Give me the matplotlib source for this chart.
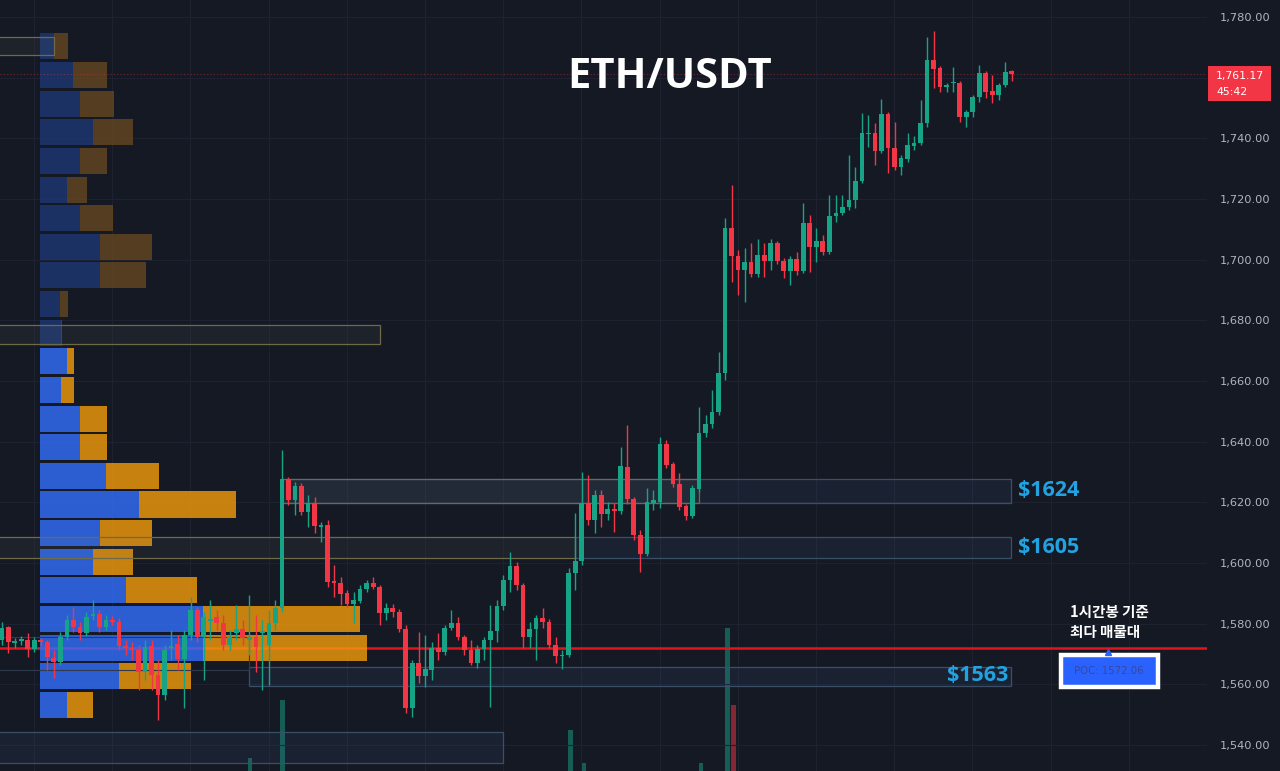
import numpy as np
import matplotlib
matplotlib.use('Agg')
import matplotlib.pyplot as plt
from matplotlib.patches import Rectangle
import matplotlib.transforms as mtransforms

# ---- candle data (1h, ETH/USDT) ----
opens = [1574.6, 1578.9, 1573.6, 1574.3, 1574.6, 1571.6, 1574.6, 1573.9, 1568.7, 1567.3,
         1575.6, 1581.2, 1578.9, 1576.9, 1582.5, 1583.2, 1578.9, 1581.2, 1580.5, 1572.6,
         1572.0, 1571.3, 1564.0, 1572.6, 1563.1, 1556.5, 1572.0, 1573.3, 1568.3, 1576.2,
         1584.5, 1575.6, 1580.9, 1582.2, 1580.2, 1572.9, 1576.9, 1578.2, 1574.6, 1575.6,
         1576.9, 1572.9, 1580.2, 1585.2, 1627.7, 1620.8, 1625.4, 1616.8, 1619.8, 1611.8,
         1612.5, 1594.0, 1593.4, 1590.1, 1586.5, 1587.5, 1591.4, 1593.4, 1592.1, 1583.5,
         1585.2, 1583.8, 1578.2, 1552.2, 1567.0, 1562.7, 1564.7, 1572.0, 1570.6, 1578.6,
         1580.2, 1575.6, 1571.3, 1567.0, 1571.6, 1574.6, 1577.6, 1585.8, 1594.4, 1599.0,
         1592.7, 1575.6, 1578.2, 1581.9, 1580.5, 1572.9, 1569.3, 1569.7, 1596.7, 1600.6,
         1619.8, 1614.2, 1622.4, 1616.1, 1617.8, 1617.1, 1631.6, 1621.1, 1609.2, 1603.0,
         1619.8, 1620.1, 1639.2, 1632.6, 1626.0, 1618.8, 1615.5, 1624.4, 1642.8, 1645.8,
         1649.8, 1662.6, 1710.4, 1701.2, 1696.6, 1699.2, 1695.3, 1701.5, 1699.5, 1705.5,
         1699.5, 1696.3, 1700.2, 1696.3, 1712.1, 1704.2, 1706.1, 1702.5, 1714.4, 1715.4,
         1717.4, 1719.7, 1725.9, 1741.4, 1741.7, 1735.8, 1748.0, 1736.8, 1730.5, 1733.2,
         1737.5, 1738.5, 1745.0, 1765.8, 1763.2, 1756.9, 1758.2, 1758.2, 1747.0, 1748.7,
         1753.6, 1761.5, 1755.6, 1754.3, 1757.6, 1762.3]
highs = [1580.5, 1579.3, 1575.3, 1575.9, 1576.9, 1575.6, 1575.3, 1574.6, 1571.3, 1577.2,
         1582.9, 1585.5, 1580.5, 1583.8, 1587.8, 1584.5, 1582.9, 1582.5, 1581.9, 1574.6,
         1573.9, 1572.9, 1574.6, 1574.6, 1568.0, 1572.9, 1577.9, 1576.2, 1577.9, 1588.8,
         1585.5, 1583.8, 1587.8, 1584.5, 1582.9, 1577.9, 1586.1, 1581.2, 1589.4, 1582.9,
         1581.2, 1584.5, 1587.8, 1637.2, 1628.3, 1626.7, 1626.4, 1622.4, 1621.7, 1613.5,
         1614.2, 1599.3, 1595.4, 1591.1, 1590.4, 1592.7, 1594.4, 1595.4, 1592.7, 1586.8,
         1586.5, 1584.8, 1579.6, 1568.0, 1577.2, 1576.2, 1573.9, 1576.9, 1579.6, 1584.5,
         1582.2, 1576.2, 1574.6, 1572.9, 1575.6, 1586.1, 1587.8, 1596.0, 1603.6, 1600.3,
         1593.4, 1580.5, 1582.9, 1585.2, 1581.5, 1575.6, 1571.3, 1598.3, 1616.5, 1630.0,
         1629.0, 1624.0, 1624.0, 1620.1, 1619.8, 1638.2, 1645.5, 1621.7, 1610.9, 1624.7,
         1624.0, 1641.5, 1640.5, 1633.3, 1629.7, 1619.4, 1625.7, 1651.4, 1648.8, 1657.0,
         1669.5, 1713.7, 1724.6, 1703.2, 1703.8, 1705.5, 1706.8, 1705.5, 1706.8, 1706.1,
         1700.5, 1701.2, 1702.5, 1718.7, 1714.7, 1710.4, 1708.1, 1721.3, 1721.3, 1721.3,
         1734.5, 1730.5, 1748.3, 1747.7, 1745.0, 1753.0, 1748.7, 1745.4, 1734.5, 1741.7,
         1740.8, 1752.6, 1773.4, 1775.4, 1763.8, 1758.2, 1763.5, 1758.9, 1749.3, 1754.3,
         1764.2, 1762.2, 1760.9, 1758.2, 1765.2, 1762.6]
lows = [1572.9, 1570.3, 1572.0, 1572.9, 1569.0, 1570.6, 1572.6, 1564.7, 1562.1, 1566.3,
        1574.6, 1577.2, 1574.6, 1575.9, 1581.2, 1577.2, 1577.9, 1579.6, 1571.3, 1569.7,
        1568.0, 1558.1, 1561.4, 1558.1, 1548.2, 1554.8, 1568.0, 1564.7, 1552.2, 1574.6,
        1573.9, 1561.4, 1574.6, 1577.9, 1571.3, 1571.3, 1574.6, 1572.9, 1569.7, 1564.0,
        1558.1, 1559.8, 1577.9, 1583.8, 1619.1, 1615.8, 1615.8, 1611.8, 1609.9, 1606.9,
        1592.1, 1588.8, 1586.1, 1585.5, 1580.2, 1586.8, 1590.4, 1591.4, 1579.6, 1581.2,
        1582.2, 1577.2, 1550.5, 1549.2, 1560.4, 1559.1, 1561.4, 1568.0, 1569.7, 1577.9,
        1574.6, 1569.7, 1566.3, 1565.4, 1568.0, 1552.5, 1573.9, 1584.5, 1590.4, 1591.1,
        1572.0, 1572.0, 1568.0, 1578.6, 1572.0, 1567.0, 1565.0, 1569.0, 1591.1, 1599.3,
        1612.5, 1609.9, 1611.8, 1614.2, 1610.2, 1616.1, 1619.4, 1607.6, 1597.0, 1602.3,
        1617.5, 1618.1, 1631.3, 1625.0, 1617.5, 1614.2, 1614.8, 1623.4, 1641.5, 1644.5,
        1648.8, 1660.3, 1692.6, 1688.3, 1686.0, 1694.3, 1694.3, 1694.3, 1696.6, 1698.6,
        1693.9, 1691.6, 1694.9, 1695.6, 1695.9, 1699.2, 1701.5, 1701.9, 1712.4, 1714.7,
        1716.4, 1717.0, 1725.3, 1737.1, 1731.2, 1735.2, 1728.6, 1729.5, 1727.9, 1732.2,
        1736.1, 1737.8, 1743.7, 1756.6, 1755.3, 1755.3, 1755.3, 1745.4, 1743.7, 1747.0,
        1752.0, 1753.3, 1751.6, 1752.6, 1756.9, 1758.9]
closes = [1578.6, 1573.9, 1574.3, 1574.9, 1571.6, 1574.6, 1573.9, 1569.0, 1567.3, 1575.6,
          1581.2, 1578.9, 1576.9, 1582.2, 1583.2, 1578.9, 1581.2, 1580.5, 1572.6, 1572.0,
          1571.3, 1564.0, 1572.3, 1563.1, 1556.5, 1571.3, 1572.6, 1568.3, 1576.2, 1584.5,
          1575.6, 1582.2, 1581.5, 1580.2, 1572.9, 1575.6, 1578.2, 1575.3, 1575.6, 1572.3,
          1577.6, 1580.2, 1585.2, 1627.7, 1620.8, 1625.4, 1616.8, 1619.8, 1612.2, 1612.5,
          1593.7, 1593.4, 1589.8, 1586.5, 1587.8, 1591.4, 1593.4, 1592.1, 1583.5, 1585.2,
          1583.8, 1578.2, 1552.2, 1567.0, 1562.7, 1565.0, 1572.0, 1570.6, 1578.6, 1580.2,
          1575.6, 1571.3, 1567.0, 1571.6, 1574.6, 1577.6, 1585.8, 1594.4, 1599.0, 1592.7,
          1575.6, 1578.2, 1581.9, 1580.5, 1572.9, 1569.3, 1569.7, 1596.7, 1600.6, 1619.8,
          1614.2, 1622.4, 1616.1, 1617.8, 1617.1, 1632.0, 1621.1, 1609.2, 1603.0, 1620.1,
          1620.8, 1639.2, 1632.3, 1626.0, 1618.4, 1615.5, 1624.7, 1642.8, 1645.8, 1649.8,
          1662.6, 1710.4, 1701.2, 1696.6, 1699.2, 1695.3, 1701.5, 1699.5, 1705.5, 1699.5,
          1696.3, 1700.2, 1696.3, 1712.1, 1704.2, 1706.1, 1702.5, 1714.4, 1715.4, 1717.4,
          1719.7, 1725.9, 1741.7, 1741.7, 1735.8, 1748.0, 1736.8, 1730.5, 1733.5, 1737.8,
          1738.5, 1745.0, 1765.8, 1762.9, 1756.9, 1757.6, 1758.6, 1747.0, 1748.7, 1753.6,
          1761.5, 1755.3, 1754.3, 1757.6, 1761.9, 1761.17]

# volume (only the bars that show above the bottom edge)
vol_idx = [38, 43, 87, 89, 107, 111, 112]
vol_val = [2.6, 14.2, 8.2, 1.6, 1.6, 28.6, 13.2]

# volume profile rows, top -> bottom
vp_buy = [7, 16.5, 20, 26.5, 20, 13.5, 20, 30, 30, 10, 10.5, 13.5,
          10.5, 20, 20, 33, 49.5, 30, 26.5, 43, 82, 82, 39.5, 13.5]
vp_sell = [7, 17, 17, 20, 13.5, 10, 16.5, 26, 23, 4, 0.5, 3.5,
           6.5, 13.5, 13.5, 26.5, 49, 26, 20, 36, 78.5, 82, 36.5, 13]
poc = 1572.06
vp_step = 9.44
va_high = 1671.2
last_price = 1761.17
countdown = '45:42'

# zones: (left idx, right idx, low, high)
blue_zones = [(43, 154.8, 1619.8, 1627.7), (88, 154.8, 1601.6, 1608.6),
              (38, 154.8, 1559.4, 1565.7), (-1, 77, 1534.1, 1544.3)]
yellow_zones = [(43, 107, 1619.8, 1627.7), (-1, 88, 1601.6, 1608.6),
                (-1, 8, 1767.5, 1773.4), (-1, 58, 1672.1, 1678.4)]
zone_labels = ['$1624', '$1605', '$1563']
zone_label_y = [1624, 1605, 1563]

price_ticks = np.arange(1540, 1781, 20)

bg = '#151924'
up_col = '#17a386'
dn_col = '#f23645'

# profile placement on the candle axis
vp_left = 5.86
vp_unit = 0.306

fig = plt.figure(figsize=(12.8, 7.71), dpi=100, facecolor=bg)
rect = [0, 0, 1207 / 1280, 1]
ax_vol = fig.add_axes(rect, facecolor=bg)
ax = fig.add_axes(rect)
ax_vol.set_zorder(0)
ax.set_zorder(1)
ax.patch.set_visible(False)
for a in (ax_vol, ax):
    for s in a.spines.values():
        s.set_visible(False)

xlim = (-0.26, 184.4)
ylim = (1531.4, 1785.6)

# volume bars
vcol = [up_col if closes[i] >= opens[i] else dn_col for i in vol_idx]
ax_vol.bar(vol_idx, vol_val, width=0.7, color=vcol, alpha=0.5, lw=0)
ax_vol.set_xlim(xlim)
ax_vol.set_ylim(0, 154.2)
ax_vol.set_xticks([])
ax_vol.set_yticks([])

# volume profile (behind candles)
n_rows = len(vp_buy)
centers = poc + (21 - np.arange(n_rows)) * vp_step
bright = centers < va_high
buy_c = np.where(bright, '#3370ff', '#1e3874')
sell_c = np.where(bright, '#f59c0a', '#65471f')
buy_w = np.array(vp_buy) * vp_unit
sell_w = np.array(vp_sell) * vp_unit
ax.axhline(poc, color='#e3141c', lw=1.8, zorder=1.2)
ax.barh(centers, buy_w, left=vp_left, height=vp_step * 0.91, color=buy_c,
        alpha=0.8, zorder=1.5, lw=0)
ax.barh(centers, sell_w, left=vp_left + buy_w, height=vp_step * 0.91, color=sell_c,
        alpha=0.8, zorder=1.5, lw=0)

# zones
for l, r, lo, hi in blue_zones:
    ax.add_patch(Rectangle((l, lo), r - l, hi - lo, fc=(0.25, 0.4, 0.62, 0.12),
                           ec='#3b4f66', lw=0.9, zorder=1.6))
for l, r, lo, hi in yellow_zones:
    ax.add_patch(Rectangle((l, lo), r - l, hi - lo, fc=(0.55, 0.55, 0.5, 0.08),
                           ec='#6e6a48', lw=0.9, zorder=1.6))
ax.add_patch(Rectangle((-1, 1564.7), 39, 10.9, fc='none', ec='#2f3b4c', lw=0.8, zorder=1.6))

for t, yv in zip(zone_labels[:2], zone_label_y[:2]):
    ax.text(156.0, yv, t, color='#22a2e0', fontsize=15.5, fontweight='bold',
            family='Open Sans', ha='left', va='center', zorder=6)
ax.text(154.4, zone_label_y[2], zone_labels[2], color='#22a2e0', fontsize=15.5,
        fontweight='bold', family='Open Sans', ha='right', va='center', zorder=6)

# candles
x = np.arange(len(opens))
o = np.array(opens)
c = np.array(closes)
colors = [up_col if cc >= oo else dn_col for oo, cc in zip(o, c)]
ax.vlines(x, lows, highs, colors=colors, lw=1.0, zorder=3)
ax.bar(x, np.maximum(np.abs(c - o), 0.5), bottom=np.minimum(o, c), width=0.72,
       color=colors, lw=0, zorder=4)

# last price line + label
ax.axhline(last_price, color=dn_col, lw=0.8, ls=(0, (1, 2)), alpha=0.45, zorder=2)
bt = mtransforms.blended_transform_factory(ax.transAxes, ax.transData)
ax.add_patch(Rectangle((1.0 + 1 / 1207, last_price - 8.8), 63 / 1207, 11.4,
                       transform=bt, fc=dn_col, ec='none', clip_on=False, zorder=6))
ax.text(1.0 + 9 / 1207, last_price - 0.5, '{:,.2f}'.format(last_price), transform=bt,
        color='white', fontsize=7.8, ha='left', va='center', clip_on=False, zorder=7)
ax.text(1.0 + 9 / 1207, last_price - 6.0, countdown, transform=bt,
        color='white', fontsize=7.8, ha='left', va='center', clip_on=False, zorder=7)

# POC label
ax.add_patch(Rectangle((162.6, poc - 13.0), 14.9, 10.5, fc='#2962ff', ec='white',
                       lw=3.2, zorder=6))
ax.plot([169.8], [poc - 1.3], marker='^', ms=5, color='#2962ff', zorder=6)
ax.text(169.9, poc - 7.8, 'POC: {:.2f}'.format(poc), color='#3a4796', fontsize=7.3,
        ha='center', va='center', zorder=7)
ax.text(163.9, poc + 8.4, '1시간봉 기준\n최다 매물대', color='white', fontsize=10.5,
        fontweight='bold', family=['Noto Sans CJK KR', 'DejaVu Sans'],
        ha='left', va='center', linespacing=1.35, zorder=7)

# title
ax.text(0.555, 0.90, 'ETH/USDT', transform=ax.transAxes, color='white', fontsize=30,
        fontweight='bold', family='Open Sans', ha='center', va='center', zorder=7)

# axes / grid  (the tick hidden under the last-price box gets no label)
ax.set_xlim(xlim)
ax.set_ylim(ylim)
ax.set_xticks(np.arange(4.95, 185, 12))
ax.set_yticks(price_ticks)
ax.set_yticklabels(['' if abs(p - last_price) < 8 else '{:,.2f}'.format(p)
                    for p in price_ticks])
ax.yaxis.tick_right()
ax.tick_params(axis='x', length=0, labelbottom=False)
ax.tick_params(axis='y', length=0, pad=9, labelcolor='#b2b5be', labelsize=8.2)
ax.grid(True, color='#1d2130', lw=0.8, zorder=0)
ax.set_axisbelow(True)

fig.savefig('out.png', dpi=100, facecolor=bg)
